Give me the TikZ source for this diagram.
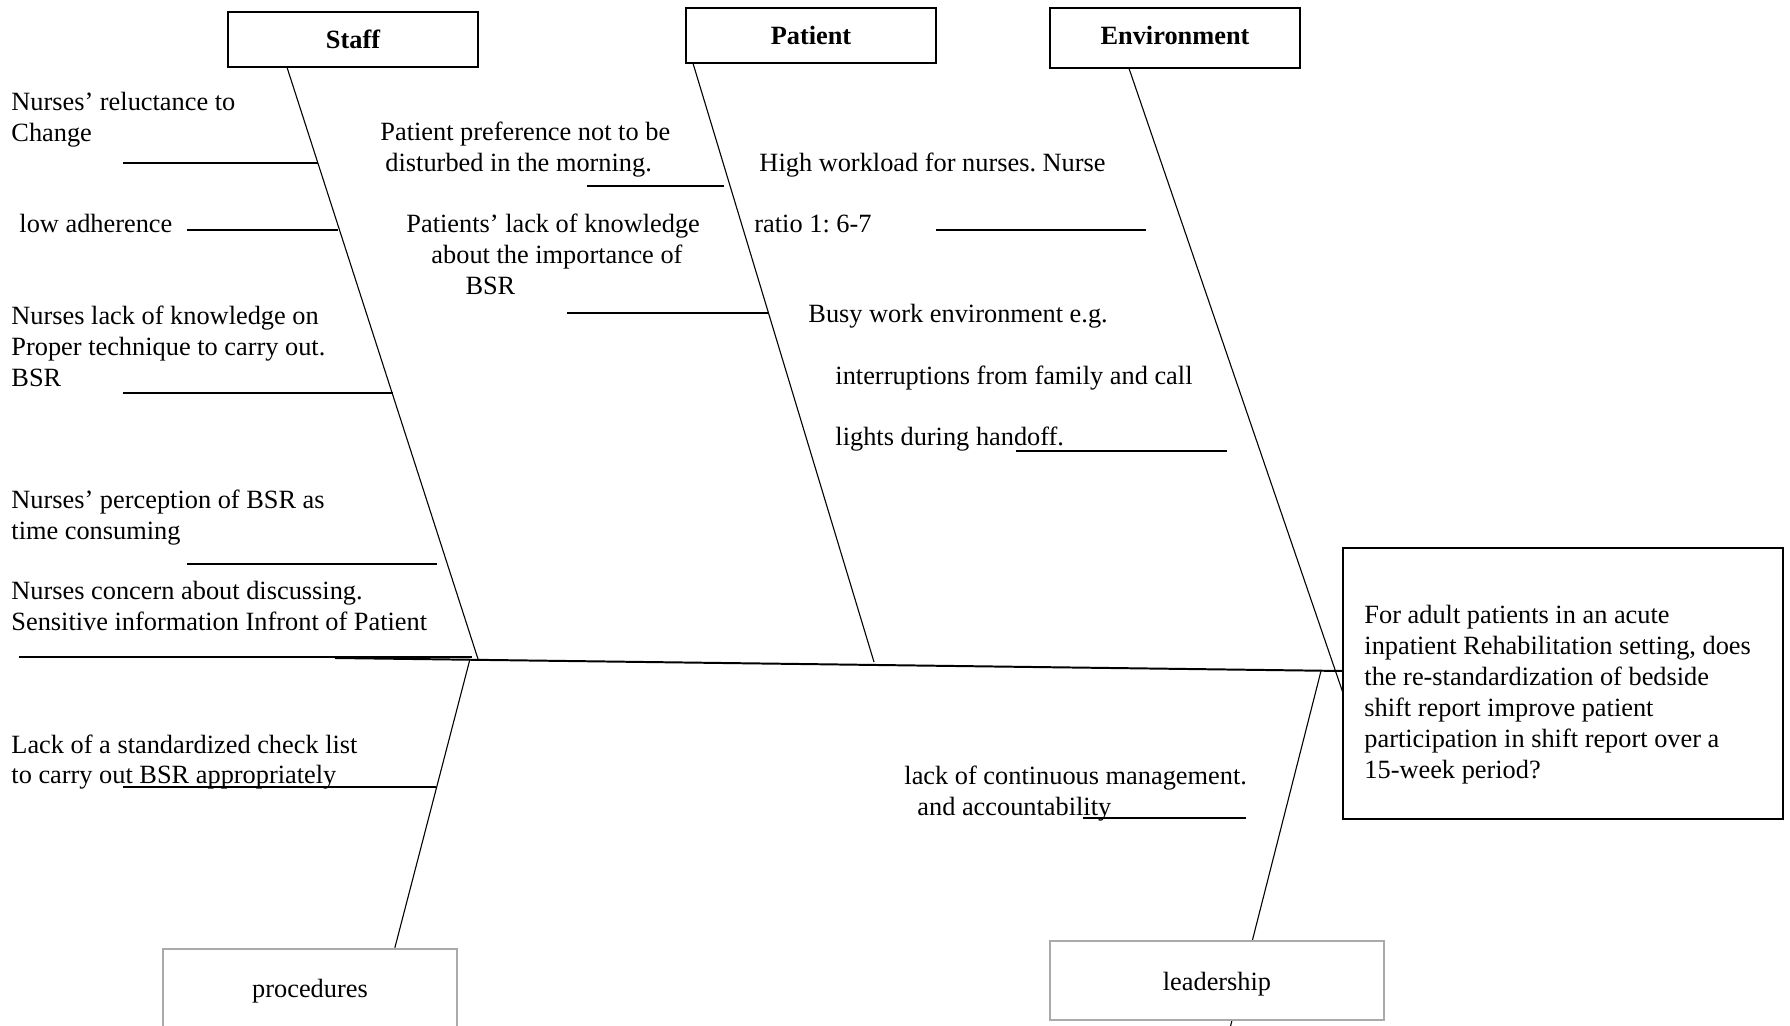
\documentclass[tikz,border=0pt]{standalone}
\usepackage{fontspec}
\setmainfont{Liberation Serif}
\usepackage{tikz}
\usetikzlibrary{calc}
\definecolor{boxgray}{RGB}{170,170,170}
\frenchspacing

\begin{document}
\begin{tikzpicture}[
  x=0.016cm, y=-0.016cm,
  catbox/.style={rectangle, draw, line width=0.8pt, fill=white, minimum width=4cm, minimum height=0.88cm, font=\fontsize{12}{14.1}\selectfont\bfseries},
  lowbox/.style={rectangle, draw=boxgray, line width=1.1pt, fill=white, font=\fontsize{12}{14.1}\selectfont},
  cause/.style={anchor=north west, inner sep=0pt, align=left, font=\fontsize{12}{14.1}\selectfont},
  wide/.style={cause, font=\fontsize{12}{28}\selectfont},
  bone/.style={line width=0.5pt},
  spine/.style={line width=0.9pt},
  tick/.style={line width=0.6pt},
]
  \useasboundingbox (0,0) rectangle (1790,1026);
  \clip (0,0) rectangle (1790,1026);

  \node[catbox] (staff) at (353,39.5) {Staff};
  \node[catbox] (patient) at (811,35.5) {Patient};
  \node[catbox, minimum height=0.96cm, text depth=2.6pt] (env) at (1175,38) {Environment};
  \node[rectangle, draw, line width=0.8pt, minimum width=7.04cm, minimum height=4.336cm] (question) at (1563,683.5) {};

  \coordinate (tail) at (335,658);
  \coordinate (head) at (1343,671);
  \coordinate (sj) at (478,659);
  \coordinate (pj) at (874,662);
  \coordinate (ej) at (1343,693);
  \coordinate (prj) at (470,659);
  \coordinate (lj) at (1321,671);
  \coordinate (lend) at (1227,1040);

  \draw[spine] (tail) -- (head);
  \draw[bone] ($(staff.south west)+(60,0)$) -- (sj);
  \draw[bone] ($(patient.south west)+(8,0)$) -- (pj);
  \draw[bone] ($(env.south west)+(80,0)$) -- (ej);
  \draw[bone] (lj) -- (lend);

  \node[lowbox, minimum width=5.344cm, minimum height=1.264cm, text height=12pt] (leadership) at (1217,980.5) {leadership};
  \node[lowbox, minimum width=4.704cm, minimum height=1.344cm] (procedures) at (310,991) {procedures};
  \draw[bone] (prj) -- ($(procedures.north west)+(233,0)$);

  % staff causes
  \node[cause] (reluct) at (11,91.5) {Nurses’ reluctance to\\Change};
  \draw[tick] (123,163) -- (318,163);
  \node[cause] (adher) at (19,213.5) {low adherence};
  \draw[tick] (187,230) -- (338,230);
  \node[cause] (skill) at (11,305.5) {Nurses lack of knowledge on\\Proper technique to carry out.\\BSR};
  \draw[tick] (123,393) -- (393,393);
  \node[cause] (timecost) at (11,489.5) {Nurses’ perception of BSR as\\time consuming};
  \draw[tick] (187,564) -- (437,564);
  \node[cause] (concern) at (11,580.5) {Nurses concern about discussing.\\Sensitive information Infront of Patient};
  \draw[tick] (19,657) -- (472,657);

  % patient causes
  \node[cause] (prefer) at (380,121.5) {Patient preference not to be\\\hspace*{2.3pt}disturbed in the morning.};
  \draw[tick] (587,186) -- (724,186);
  \node[cause] (knowbsr) at (406,213.5) {Patients’ lack of knowledge\\\hspace*{11.4pt}about the importance of\\\hspace*{26.9pt}BSR};
  \draw[tick] (567,313) -- (768,313);

  % environment causes
  \node[wide] (workload) at (754,152.5) {\hspace*{2.3pt}High workload for nurses. Nurse\\ratio 1: 6-7};
  \draw[tick] (936,230) -- (1146,230);
  \node[wide] (busy) at (808,304) {Busy work environment e.g.\\\hspace*{12.3pt}interruptions from family and call\\\hspace*{12.3pt}lights during handoff.};
  \draw[tick] (1016,451) -- (1227,451);

  % procedures and leadership causes
  \node[cause] (checklist) at (11,734) {Lack of a standardized check list\\to carry out BSR appropriately};
  \draw[tick] (123,787) -- (436,787);
  \node[cause] (manage) at (904,765.5) {lack of continuous management.\\\hspace*{5.9pt}and accountability};
  \draw[tick] (1083,818) -- (1246,818);

  \node[cause] (questext) at (1364,604.5) {For adult patients in an acute\\inpatient Rehabilitation setting, does\\the re-standardization of bedside\\shift report improve patient\\participation in shift report over a\\15-week period?};
\end{tikzpicture}
\end{document}
